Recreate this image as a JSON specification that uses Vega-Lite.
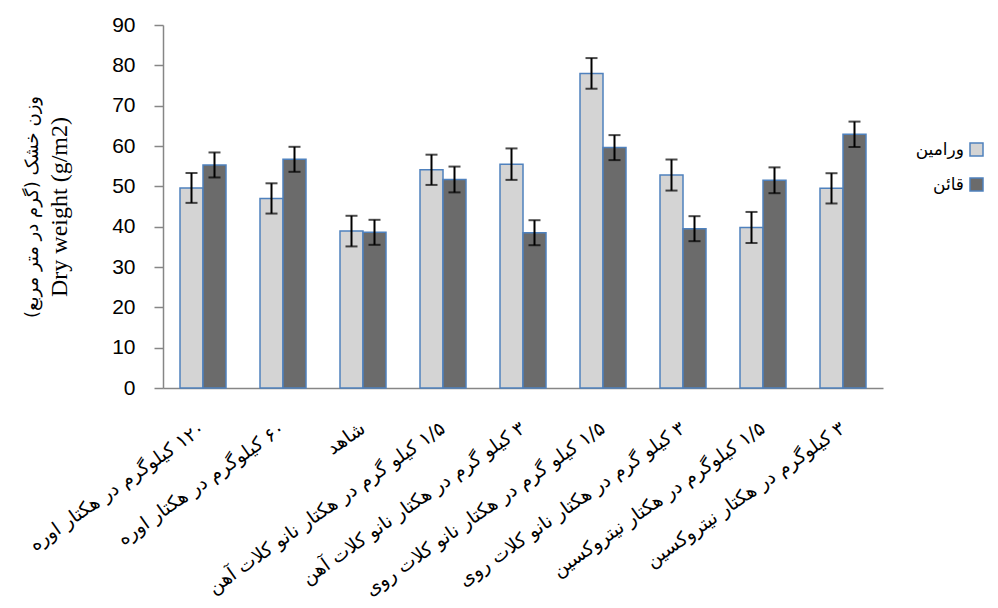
{
  "$schema": "https://vega.github.io/schema/vega-lite/v6.json",
  "width": 720,
  "height": 363,
  "autosize": {"type": "none"},
  "padding": {"left": 163, "top": 25, "right": 115, "bottom": 220},
  "background": "white",
  "config": {
    "view": {"stroke": null},
    "axis": {"grid": false}
  },
  "data": {
    "values": [
      {"treatment": "\u200f۱۲۰ کیلوگرم در هکتار اوره", "cultivar": "ورامین", "dw": 49.6, "err": 3.7},
      {"treatment": "\u200f۱۲۰ کیلوگرم در هکتار اوره", "cultivar": "قائن", "dw": 55.3, "err": 3.1},
      {"treatment": "\u200f۶۰ کیلوگرم در هکتار اوره", "cultivar": "ورامین", "dw": 47.0, "err": 3.75},
      {"treatment": "\u200f۶۰ کیلوگرم در هکتار اوره", "cultivar": "قائن", "dw": 56.7, "err": 3.1},
      {"treatment": "\u200fشاهد", "cultivar": "ورامین", "dw": 38.9, "err": 3.8},
      {"treatment": "\u200fشاهد", "cultivar": "قائن", "dw": 38.6, "err": 3.1},
      {"treatment": "\u200f۱/۵ کیلو گرم در هکتار نانو کلات آهن", "cultivar": "ورامین", "dw": 54.1, "err": 3.75},
      {"treatment": "\u200f۱/۵ کیلو گرم در هکتار نانو کلات آهن", "cultivar": "قائن", "dw": 51.7, "err": 3.2},
      {"treatment": "\u200f۳ کیلو گرم در هکتار نانو کلات آهن", "cultivar": "ورامین", "dw": 55.5, "err": 3.9},
      {"treatment": "\u200f۳ کیلو گرم در هکتار نانو کلات آهن", "cultivar": "قائن", "dw": 38.5, "err": 3.1},
      {"treatment": "\u200f۱/۵ کیلو گرم در هکتار نانو کلات روی", "cultivar": "ورامین", "dw": 78.0, "err": 3.8},
      {"treatment": "\u200f۱/۵ کیلو گرم در هکتار نانو کلات روی", "cultivar": "قائن", "dw": 59.6, "err": 3.1},
      {"treatment": "\u200f۳ کیلو گرم در هکتار نانو کلات روی", "cultivar": "ورامین", "dw": 52.8, "err": 3.85},
      {"treatment": "\u200f۳ کیلو گرم در هکتار نانو کلات روی", "cultivar": "قائن", "dw": 39.5, "err": 3.1},
      {"treatment": "\u200f۱/۵ کیلوگرم در هکتار نیتروکسین", "cultivar": "ورامین", "dw": 39.8, "err": 3.85},
      {"treatment": "\u200f۱/۵ کیلوگرم در هکتار نیتروکسین", "cultivar": "قائن", "dw": 51.5, "err": 3.2},
      {"treatment": "\u200f۳ کیلوگرم در هکتار نیتروکسین", "cultivar": "ورامین", "dw": 49.5, "err": 3.75},
      {"treatment": "\u200f۳ کیلوگرم در هکتار نیتروکسین", "cultivar": "قائن", "dw": 62.9, "err": 3.15}
    ]
  },
  "encoding": {
    "x": {
      "field": "treatment",
      "type": "nominal",
      "sort": null,
      "scale": {"paddingInner": 0.425, "paddingOuter": 0.2125},
      "axis": {
        "title": null,
        "ticks": false,
        "domainColor": "#868686",
        "domainWidth": 1.5,
        "labelAngle": -35,
        "labelAlign": "right",
        "labelBaseline": "middle",
        "labelPadding": 38,
        "labelFont": "DejaVu Sans",
        "labelFontSize": 19,
        "labelColor": "#000000",
        "labelLimit": 0
      }
    },
    "xOffset": {"field": "cultivar", "type": "nominal", "sort": ["ورامین", "قائن"]}
  },
  "layer": [
    {
      "mark": {"type": "bar", "stroke": "#4f81bd", "strokeWidth": 1.5},
      "encoding": {
        "y": {
          "field": "dw",
          "type": "quantitative",
          "scale": {"domain": [0, 90], "nice": false},
          "axis": {
            "orient": "left",
            "values": [0, 10, 20, 30, 40, 50, 60, 70, 80, 90],
            "title": "Dry weight (g/m2)",
            "titleFont": "Liberation Serif",
            "titleFontSize": 24,
            "titleFontWeight": "normal",
            "titleColor": "#000000",
            "titlePadding": 40,
            "labelFont": "Liberation Sans",
            "labelFontSize": 21,
            "labelColor": "#000000",
            "labelPadding": 19,
            "tickSize": 9,
            "tickColor": "#868686",
            "tickWidth": 1.5,
            "domainColor": "#868686",
            "domainWidth": 1.5
          }
        },
        "fill": {
          "field": "cultivar",
          "type": "nominal",
          "scale": {"domain": ["ورامین", "قائن"], "range": ["#d4d4d4", "#6b6b6b"]},
          "legend": {
            "title": null,
            "orient": "none",
            "legendX": 805,
            "legendY": 116,
            "symbolType": "square",
            "symbolSize": 169,
            "symbolStrokeColor": "#4f81bd",
            "symbolStrokeWidth": 1.5,
            "labelAlign": "right",
            "labelOffset": -21,
            "labelFont": "DejaVu Sans",
            "labelFontSize": 17,
            "labelColor": "#000000",
            "rowPadding": 16
          }
        }
      }
    },
    {
      "mark": {"type": "errorbar", "ticks": true, "size": 12, "thickness": 2, "color": "#000000"},
      "encoding": {
        "y": {
          "field": "dw",
          "type": "quantitative",
          "scale": {"domain": [0, 90], "nice": false},
          "axis": {
            "orient": "left",
            "labels": false,
            "ticks": false,
            "domain": false,
            "title": "\u200fوزن خشک (گرم در متر مربع)\u200f",
            "titleFont": "DejaVu Sans",
            "titleFontSize": 18,
            "titleFontWeight": "normal",
            "titleColor": "#000000",
            "titlePadding": 122
          }
        },
        "yError": {"field": "err"}
      }
    }
  ],
  "resolve": {"scale": {"y": "independent"}}
}
